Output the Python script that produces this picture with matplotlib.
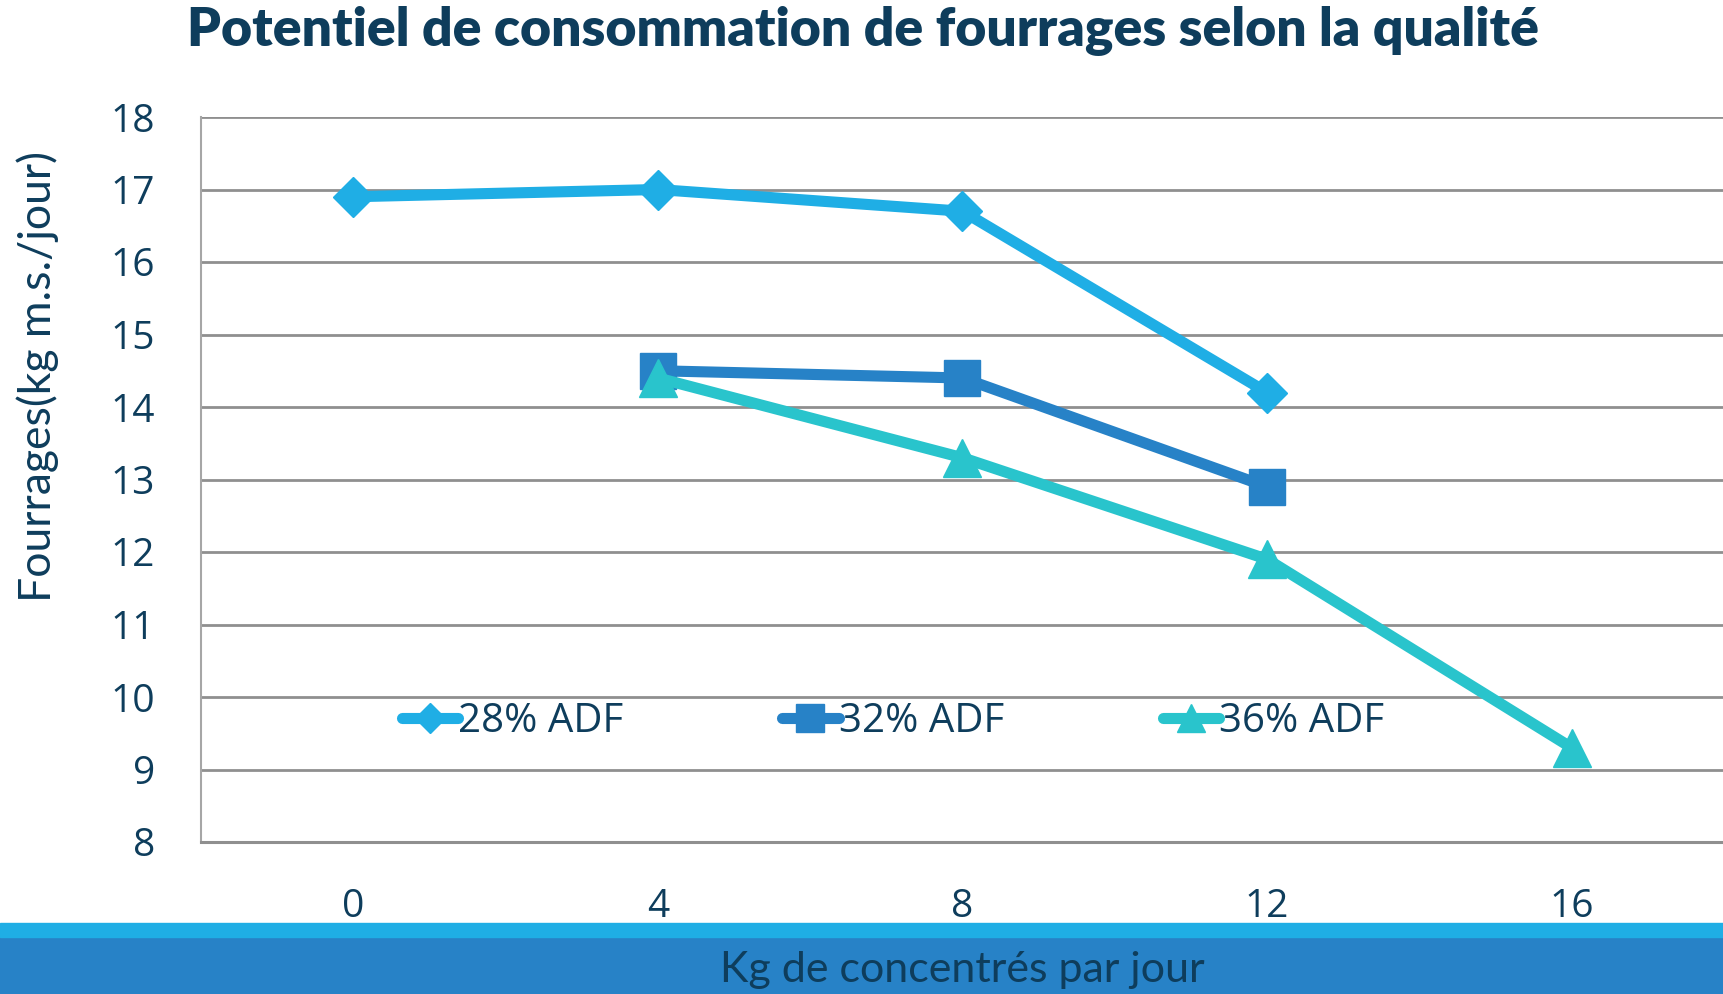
import matplotlib
matplotlib.use("Agg")
import matplotlib.pyplot as plt
from matplotlib.patches import Rectangle

# data
concentrate = [0, 4, 8, 12, 16]
x_28 = [0, 4, 8, 12]
y_28 = [16.9, 17.0, 16.7, 14.2]
x_32 = [4, 8, 12]
y_32 = [14.5, 14.4, 12.9]
x_36 = [4, 8, 12, 16]
y_36 = [14.4, 13.3, 11.9, 9.3]
series_names = ["28% ADF", "32% ADF", "36% ADF"]
y_ticks = list(range(8, 19))

NAVY = "#0E3D5C"
C28 = "#1FAEE5"
C32 = "#2782C7"
C36 = "#29C4CC"
GRID = "#8F8F8F"

fig = plt.figure(figsize=(17.24, 9.94), dpi=100)
ax = fig.add_axes([201 / 1724, 1 - 842 / 994, 1 - 201 / 1724, (842 - 117) / 994])

ax.plot(x_28, y_28, color=C28, lw=8, marker="D", ms=20, label=series_names[0],
        solid_joinstyle="round", solid_capstyle="round")
ax.plot(x_32, y_32, color=C32, lw=8, marker="s", ms=26, label=series_names[1],
        solid_joinstyle="round", solid_capstyle="round")
ax.plot(x_36, y_36, color=C36, lw=8, marker="^", ms=27, label=series_names[2],
        solid_joinstyle="round", solid_capstyle="round")

ax.set_xlim(-2, 18)
ax.set_ylim(8, 18)
ax.set_yticks(y_ticks)
ax.set_xticks(concentrate)
for t in y_ticks[1:]:
    ax.axhline(t, color=GRID, lw=2, zorder=0)

for s in ["top", "right"]:
    ax.spines[s].set_visible(False)
ax.spines["bottom"].set_color(GRID)
ax.spines["bottom"].set_linewidth(2.2)
ax.spines["left"].set_color("#A6A6A6")
ax.spines["left"].set_linewidth(1.5)
ax.tick_params(axis="both", length=0, labelsize=28, labelcolor=NAVY)
ax.tick_params(axis="y", pad=33)
ax.tick_params(axis="x", pad=33)
for lab in ax.get_xticklabels() + ax.get_yticklabels():
    lab.set_fontfamily("Open Sans")

leg = ax.legend(loc="center", bbox_to_anchor=(0.518, 1 - 722 / 994),
                bbox_transform=fig.transFigure, ncol=3, frameon=False,
                handlelength=1.4, handletextpad=0.0, columnspacing=3.95,
                markerscale=0.75, prop={"family": "Open Sans", "size": 29})
for t in leg.get_texts():
    t.set_color(NAVY)

# title and axis titles
fig.text(0.5006, 1 - 31 / 994, "Potentiel de consommation de fourrages selon la qualité",
         ha="center", va="center", fontsize=38.5, fontweight="heavy",
         family="Lato", color=NAVY)
fig.text(38 / 1724, 1 - 377 / 994, "Fourrages(kg m.s./jour)", rotation=90,
         ha="center", va="center", fontsize=32, family="Lato", color=NAVY)

# colored bands at the bottom
fig.add_artist(Rectangle((0, 0), 1, 1 - 937 / 994, transform=fig.transFigure,
                         color=C32, zorder=0))
fig.add_artist(Rectangle((0, 1 - 937 / 994), 1, 14 / 994, transform=fig.transFigure,
                         color=C28, zorder=0))
fig.text(962 / 1724, 1 - 970 / 994, "Kg de concentrés par jour", ha="center",
         va="center", fontsize=31, family="Lato", color=NAVY)

fig.savefig("out.png", dpi=100)
